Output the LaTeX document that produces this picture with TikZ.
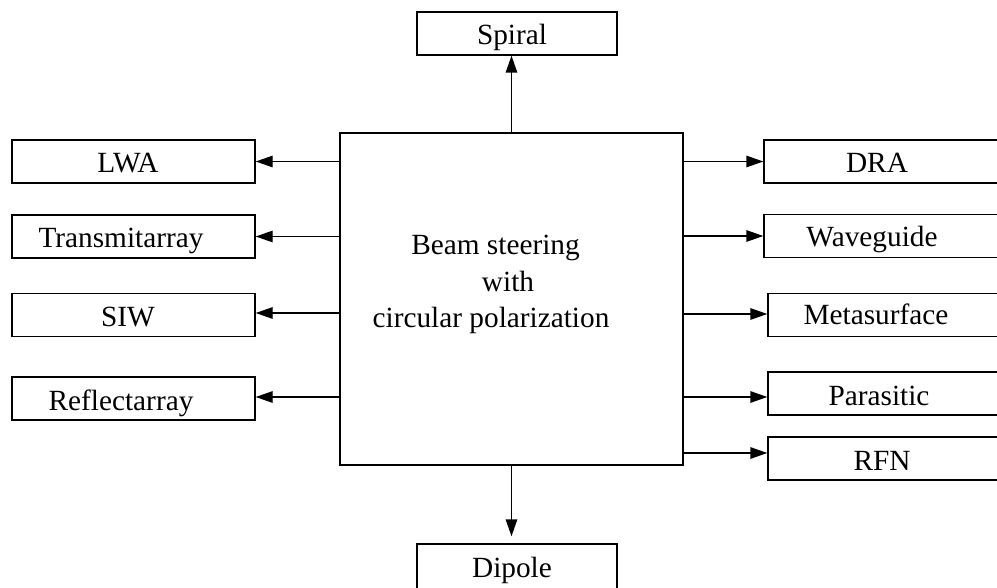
\documentclass[tikz,border=0pt]{standalone}
\usepackage{fontspec}
\setmainfont{Liberation Serif}
\usetikzlibrary{arrows.meta}
\begin{document}
\begin{tikzpicture}[x=1pt, y=-1pt, line width=1.4pt,
  box/.style={draw, minimum width=243pt, minimum height=43pt, inner sep=0pt},
  smallbox/.style={box, minimum width=200pt},
  lbl/.style={anchor=base, inner sep=0pt, font=\fontsize{29.3}{34}\selectfont},
  arr/.style={-{Triangle[length=17pt,width=11.5pt]}}]
\useasboundingbox (0,0) rectangle (997,588);
\clip (0,0) rectangle (997,588);

% central block
\node[draw, minimum width=343pt, minimum height=332pt, inner sep=0pt] (core) at (511.5,299) {};
\node[lbl] (core1) at (495.5,255) {Beam steering};
\node[lbl] (core2) at (508,292) {with};
\node[lbl] (core3) at (491,327) {circular polarization};

% top and bottom (the lower box runs past the bottom edge)
\node[smallbox] (spiral) at (517,33.5) {};
\node[lbl] (spiralt) at ([xshift=-5pt,yshift=-11.5pt]spiral.center) {Spiral};
\node[smallbox, minimum height=50pt] (dipole) at (517,569) {};
\node[lbl] (dipolet) at ([xshift=-5pt,yshift=-8pt]dipole.center) {Dipole};

% left column
\node[box] (lwa)   at (133.5,161.5) {};
\node[box] (trans) at (133.5,236.5) {};
\node[box] (siw)   at (133.5,315) {};
\node[box] (refl)  at (133.5,398.5) {};
\node[lbl] (lwat)   at ([xshift=-5.5pt,yshift=-11.5pt]lwa.center) {LWA};
\node[lbl] (transt) at ([xshift=-12.5pt,yshift=-11.5pt]trans.center) {Transmitarray};
\node[lbl] (siwt)   at ([xshift=-5.5pt,yshift=-11.5pt]siw.center) {SIW};
\node[lbl] (reflt)  at ([xshift=-12.5pt,yshift=-11.5pt]refl.center) {Reflectarray};

% right column (boxes run past the right edge)
\node[box] (dra)  at (885.5,161.5) {};
\node[box] (wg)   at (885.5,236) {};
\node[box] (meta) at (889.5,315) {};
\node[box] (par)  at (889.5,393.5) {};
\node[box] (rfn)  at (889.5,458.5) {};
\node[lbl] (drat)  at ([xshift=-8.5pt,yshift=-11.5pt]dra.center) {DRA};
\node[lbl] (wgt)   at ([xshift=-13.5pt,yshift=-11pt]wg.center) {Waveguide};
\node[lbl] (metat) at ([xshift=-13.5pt,yshift=-10pt]meta.center) {Metasurface};
\node[lbl] (part)  at ([xshift=-10.5pt,yshift=-11.5pt]par.center) {Parasitic};
\node[lbl] (rfnt)  at ([xshift=-7.5pt,yshift=-11.5pt]rfn.center) {RFN};

% connectors
\draw[arr] (core.north) -- (core.north |- spiral.south);
\draw[arr, shorten >=7pt] (core.south) -- (core.south |- dipole.north);

\draw[arr] (core.west |- lwa.east) -- (lwa.east);
\draw[arr] (core.west |- trans.east) -- (trans.east);
\draw[arr] ([yshift=2pt]siw.east -| core.west) -- ([yshift=2pt]siw.east);
\draw[arr] ([yshift=1.5pt]refl.east -| core.west) -- ([yshift=1.5pt]refl.east);

\draw[arr] (core.east |- dra.west) -- (dra.west);
\draw[arr] (core.east |- wg.west) -- (wg.west);
\draw[arr] ([yshift=1pt]meta.west -| core.east) -- ([yshift=1pt]meta.west);
\draw[arr] ([yshift=-3.5pt]par.west -| core.east) -- ([yshift=-3.5pt]par.west);
\draw[arr] ([yshift=5.5pt]rfn.west -| core.east) -- ([yshift=5.5pt]rfn.west);
\end{tikzpicture}
\end{document}
